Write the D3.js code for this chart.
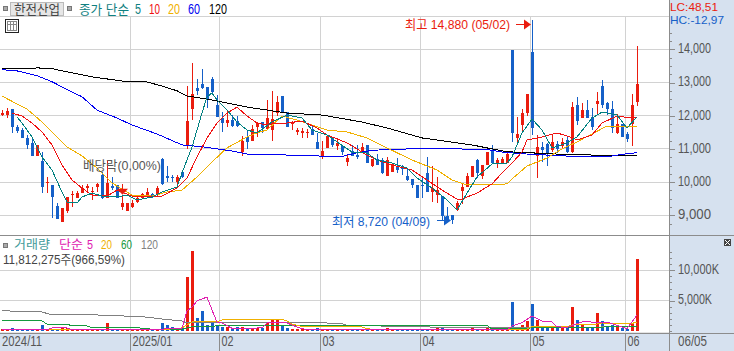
<!DOCTYPE html>
<html lang="en">

<head>
    <meta charset="utf-8">
    <style>
        html, body { margin: 0; padding: 0; background: #fff; overflow: hidden; }
        svg { display: block; }
        .narrow { font-family: "Liberation Sans Narrow", "Liberation Sans", sans-serif; }
        .kr { font-family: "Liberation Sans", "Noto Sans CJK KR", sans-serif; }
    </style>
</head>

<body>

    <script type='text/javascript' src='https://d3js.org/d3.v7.min.js'></script>

    <svg width="734" height="351"></svg>

    <script>
        // daily candles, 128 sessions from 2024/11 to 2025/06
        var opens = [
            12020, 12020, 12200, 11660, 11570, 11330, 11180, 10790, 10640, 9970,
            9910, 9280, 8800, 9130, 9610, 9520, 9670, 9820, 9700, 9850,
            10210, 9520, 9880, 9910, 9250, 9130, 9250, 9400, 9520, 9610,
            9640, 9610, 10700, 10180, 10150, 10000, 10300, 11120, 12200, 12830,
            12950, 12860, 13100, 12320, 11930, 11780, 11870, 11840, 10910, 11360,
            11240, 11660, 11810, 11600, 11570, 12080, 12590, 12110, 11750, 11510,
            11480, 11480, 11600, 11210, 10760, 11030, 11360, 11090, 11090, 10610,
            10940, 10820, 10880, 11120, 10490, 10700, 10670, 10180, 10300, 10460,
            10430, 10180, 10090, 9910, 9910, 10270, 9700, 9610, 9580, 8980,
            9010, 9160, 9730, 9850, 10150, 10670, 10180, 10520, 10970, 10550,
            10580, 10580, 13980, 11330, 11720, 12080, 13920, 10790, 11060, 11150,
            10970, 11150, 11090, 11270, 10910, 12320, 11930, 12170, 11960, 12350,
            12900, 12380, 12200, 11480, 11750, 11450, 11750, 12410
        ];
        var closes = [
            12080, 12140, 11660, 11540, 11330, 11120, 10790, 11120, 9850, 10000,
            9550, 8890, 9220, 9550, 9640, 9670, 9820, 9880, 9730, 9940,
            9520, 9970, 9820, 9520, 9370, 9370, 9370, 9520, 9640, 9700,
            9550, 9820, 9940, 10120, 10120, 10150, 10150, 11840, 12650, 12740,
            12830, 12470, 12710, 11960, 11780, 11870, 11690, 11690, 11240, 11210,
            11600, 11780, 11630, 11930, 11900, 12410, 12110, 11660, 11780, 11570,
            11540, 11510, 11420, 11000, 10940, 11390, 11120, 11180, 10910, 10730,
            10790, 10760, 11060, 10580, 10700, 10520, 10270, 10670, 10550, 10360,
            10400, 10060, 9910, 9520, 9880, 9700, 9820, 9760, 8980, 8860,
            8860, 9370, 9850, 10180, 10490, 10270, 10520, 10910, 10580, 10670,
            10700, 10850, 11480, 11450, 12080, 12650, 11630, 11060, 10970, 10880,
            11210, 10990, 11210, 10910, 12260, 11840, 12170, 11930, 11660, 12440,
            12320, 12200, 11630, 11750, 11360, 11300, 12320, 12950
        ];
        var highs = [
            12170, 12230, 12200, 11720, 11630, 11420, 11300, 11120, 10910, 10150,
            9910, 9370, 9220, 9550, 9730, 9730, 9910, 9940, 9850, 9970,
            10300, 10670, 10150, 9910, 9610, 9370, 9460, 9550, 9670, 9820,
            9670, 9880, 10730, 10490, 10210, 10210, 10330, 12900, 13590, 13100,
            13410, 12860, 13160, 12620, 12110, 12170, 12020, 11990, 11390, 11570,
            11720, 11810, 11810, 12470, 12740, 12590, 12590, 12110, 11840, 11630,
            11630, 11600, 11690, 11480, 11240, 11390, 11360, 11330, 11120, 10820,
            11120, 11120, 11180, 11120, 10700, 10850, 10730, 10760, 10550, 10730,
            10520, 10400, 10090, 9910, 10120, 10760, 10490, 10150, 9580, 9250,
            9010, 9430, 9940, 10280, 10490, 10700, 10520, 10910, 11120, 10730,
            10760, 10910, 13980, 11960, 12200, 12650, 14880, 11420, 11210, 11180,
            11450, 11240, 11330, 11370, 12410, 12560, 12380, 12470, 12230, 12720,
            13080, 12410, 12440, 12050, 11750, 11520, 12660, 14100
        ];
        var lows = [
            11990, 11930, 11480, 11480, 11330, 11000, 10790, 10790, 9670, 9670,
            8920, 8890, 8800, 9070, 9250, 9520, 9670, 9670, 9460, 9700,
            9490, 9520, 9760, 9520, 9160, 9130, 9220, 9370, 9490, 9610,
            9520, 9580, 9910, 10000, 10000, 9910, 10120, 11000, 11870, 12620,
            12800, 12230, 12680, 11960, 11510, 11660, 11660, 11660, 10790, 11000,
            11240, 11360, 11480, 11600, 11240, 11990, 12110, 11660, 11570, 11420,
            11330, 11330, 11420, 11000, 10700, 11030, 11060, 10970, 10820, 10490,
            10790, 10700, 10880, 10580, 10460, 10520, 10240, 10180, 10300, 10270,
            10210, 10030, 9820, 9520, 9520, 9700, 9400, 9370, 8830, 8800,
            8740, 9130, 9340, 9850, 10150, 10130, 10090, 10520, 10580, 10430,
            10580, 10580, 11200, 11210, 11510, 12000, 11420, 10120, 10600, 10490,
            10910, 10880, 11030, 10880, 10880, 11720, 11930, 11930, 11570, 12020,
            12230, 12020, 11480, 11450, 11360, 11220, 11090, 12290
        ];
        // volume in thousands of shares
        var volumes = [
            330, 330, 500, 330, 330, 330, 410, 330, 1070, 410,
            410, 410, 500, 500, 330, 410, 410, 330, 330, 330,
            410, 1240, 410, 410, 330, 170, 330, 330, 330, 330,
            170, 170, 1240, 910, 580, 500, 500, 8910, 13200, 2150,
            3220, 1070, 1570, 830, 660, 580, 410, 580, 580, 500,
            500, 500, 500, 1240, 1980, 1820, 830, 500, 330, 330,
            500, 170, 170, 500, 250, 170, 170, 170, 170, 170,
            170, 170, 170, 170, 170, 170, 170, 500, 170, 170,
            170, 170, 170, 170, 170, 170, 170, 500, 500, 250,
            170, 250, 250, 330, 500, 250, 250, 500, 250, 170,
            170, 250, 4700, 330, 990, 1570, 4370, 1730, 580, 500,
            500, 500, 500, 500, 3880, 1820, 1070, 500, 580, 2890,
            1650, 660, 910, 740, 500, 330, 1150, 11812
        ];

        // moving averages at the session indexes in *Days
        var ma5Days = [3, 4, 6, 8, 10, 12, 13, 15, 16, 18, 20, 23, 25, 27, 30, 32, 35, 36, 38, 40, 41, 42, 43, 45, 47, 49, 51, 54, 57, 60, 62, 65, 67, 70, 73, 75, 78, 81, 83, 86, 89, 91, 93, 95, 98, 101, 102, 104, 106, 108, 110, 113, 115, 118, 120, 123, 125, 127];
        var ma5 = [11960, 11780, 11360, 10755, 10365, 9700, 9400, 9370, 9550, 9670, 9580, 9550, 9610, 9460, 9550, 9700, 9850, 10275, 11055, 12080, 12565, 12685, 12475, 12170, 11810, 11570, 11480, 11810, 12020, 11930, 11570, 11420, 11210, 10905, 10875, 10665, 10575, 10425, 10125, 9820, 9460, 9160, 9670, 10155, 10545, 10575, 10755, 11480, 11900, 11570, 11030, 11180, 11360, 11930, 12110, 12020, 11630, 11960];
        var ma10Days = [2, 4, 6, 8, 10, 12, 14, 16, 18, 21, 23, 26, 28, 32, 35, 37, 39, 41, 43, 45, 47, 49, 51, 53, 55, 57, 60, 63, 65, 69, 73, 75, 78, 82, 85, 88, 91, 92, 95, 98, 100, 102, 104, 105, 108, 111, 113, 115, 118, 120, 123, 126, 127];
        var ma10 = [12080, 11990, 11780, 11510, 11120, 10515, 10065, 9820, 9610, 9580, 9760, 9580, 9580, 9580, 9820, 10125, 10755, 11330, 11780, 12080, 12260, 11990, 11780, 11720, 11780, 11780, 11840, 11630, 11420, 11180, 10815, 10665, 10515, 10365, 10065, 9760, 9490, 9490, 9670, 9945, 10275, 10575, 10905, 11270, 11360, 11480, 11390, 11270, 11420, 11780, 11990, 11930, 11960];
        var ma20Days = [0, 5, 8, 11, 13, 16, 19, 22, 26, 30, 33, 36, 39, 42, 45, 49, 51, 53, 56, 59, 62, 65, 69, 73, 77, 82, 87, 90, 93, 97, 101, 102, 105, 109, 112, 115, 118, 121, 124, 127];
        var ma20 = [12590, 12200, 11810, 11360, 11060, 10790, 10425, 9975, 9610, 9580, 9700, 9760, 10155, 10605, 11030, 11360, 11480, 11570, 11990, 11870, 11720, 11570, 11510, 11330, 11030, 10665, 10365, 10065, 9915, 9915, 9945, 10095, 10485, 10725, 11000, 11210, 11450, 11690, 11660, 11690];
        var ma60Days = [0, 3, 7, 10, 12, 16, 19, 23, 26, 31, 36, 40, 46, 49, 57, 68, 69, 72, 75, 85, 97, 100, 105, 113, 122, 124, 127];
        var ma60 = [13385, 13350, 13205, 13025, 12865, 12570, 12170, 11930, 11720, 11450, 11120, 11065, 10937, 10845, 10815, 10765, 10815, 10915, 10965, 11020, 10980, 10905, 10845, 10785, 10785, 10835, 10885];
        var ma120Days = [0, 6, 7, 10, 12, 18, 24, 29, 32, 35, 37, 41, 45, 49, 57, 64, 72, 77, 84, 94, 97, 101, 106, 110, 118, 127];
        var ma120 = [13410, 13410, 13440, 13420, 13350, 13170, 13045, 13015, 12895, 12750, 12595, 12500, 12380, 12260, 12080, 12020, 11810, 11630, 11330, 11120, 11030, 10915, 10880, 10850, 10815, 10815];

        var volMa5Days = [0, 9, 10, 13, 14, 32, 33, 36, 37, 38, 39, 41, 42, 43, 44, 46, 52, 53, 57, 59, 61, 101, 102, 104, 106, 108, 110, 111, 113, 116, 121, 123, 125, 127];
        var volMa5 = [170, 170, 500, 500, 250, 250, 450, 450, 3300, 3960, 4950, 5600, 3470, 1440, 1320, 450, 500, 1320, 1320, 660, 170, 170, 830, 1350, 2475, 1650, 1500, 700, 600, 1500, 1450, 950, 400, 2640];
        var volMa20Days = [0, 27, 30, 32, 36, 38, 40, 43, 44, 53, 56, 57, 58, 60, 72, 73, 75, 103, 105, 106, 113, 114, 118, 120, 126, 127];
        var volMa20 = [280, 280, 220, 220, 500, 1490, 1490, 1500, 1820, 1930, 1930, 1650, 1150, 750, 660, 380, 210, 210, 330, 710, 710, 990, 990, 1320, 1240, 1490];
        var volMa60Days = [0, 8, 9, 13, 14, 17, 18, 27, 30, 36, 38, 42, 43, 97, 98, 105, 106, 120, 121, 127];
        var volMa60 = [1650, 1650, 1150, 1150, 830, 830, 540, 540, 300, 300, 710, 710, 900, 900, 330, 330, 600, 600, 760, 760];
        var volMa120Days = [0, 3, 8, 10, 19, 28, 32, 36, 37, 43, 65, 66, 68, 69, 75, 76, 98, 127];
        var volMa120 = [3460, 3140, 3140, 2640, 2640, 2360, 1980, 1650, 1320, 1320, 1320, 1200, 1200, 940, 940, 780, 500, 710];

        // axis
        var priceTicks = [9000, 10000, 11000, 12000, 13000, 14000];
        var priceMinorTicks = [8750, 9250, 9500, 9750, 10250, 10500, 10750, 11250, 11500, 11750, 12250, 12500, 12750, 13250, 13500, 13750, 14250, 14500];
        var volTicks = [5000, 10000];
        var volMinorTicks = [0, 1000, 2000, 3000, 4000, 6000, 7000, 8000, 9000, 11000, 12000, 13000];
        var monthDays = [26, 44, 64, 84, 106, 125];
        var monthLabels = ["2025/01", "02", "03", "04", "05", "06"];

        var svg = d3.select("svg");
        var red = "#ea1c0e", blue = "#1560c8";
        var gridColor = "#d2d2d2", axisColor = "#8c8c8c", textColor = "#555";
        var axisX = 669;

        var x = d3.scaleLinear().domain([0, 127]).range([2, 637]);
        var yPrice = d3.scaleLinear().domain([9000, 14000]).range([215.3, 49.3]);
        var yVol = d3.scaleLinear().domain([0, 10000]).range([331, 270.3]);

        function px(v) { return Math.floor(v) + 0.5; }
        function gridX(d) { return px(x(d) - 2); }

        function label(text, tx, ty, color, width, size, cls) {
            return svg.append("text")
                .attr("class", cls || "kr")
                .attr("x", tx).attr("y", ty)
                .attr("font-size", (size || 13) + "px")
                .attr("fill", color)
                .attr("textLength", width)
                .attr("lengthAdjust", "spacingAndGlyphs")
                .text(text);
        }

        // right and bottom panels
        svg.append("rect").attr("x", axisX).attr("y", 0).attr("width", 734 - axisX).attr("height", 351).attr("fill", "#d6e1ef");
        svg.append("rect").attr("x", 0).attr("y", 334).attr("width", 734).attr("height", 17).attr("fill", "#d6e1ef");

        // grid
        var grid = svg.append("g").attr("stroke", gridColor).attr("shape-rendering", "crispEdges");
        grid.append("line").attr("x1", 0).attr("x2", axisX).attr("y1", 16.5).attr("y2", 16.5);
        grid.selectAll(".gp").data(priceTicks).enter().append("line")
            .attr("x1", 0).attr("x2", axisX)
            .attr("y1", function (d) { return px(yPrice(d)); })
            .attr("y2", function (d) { return px(yPrice(d)); });
        grid.selectAll(".gv").data(volTicks).enter().append("line")
            .attr("x1", 0).attr("x2", axisX)
            .attr("y1", function (d) { return px(yVol(d)); })
            .attr("y2", function (d) { return px(yVol(d)); });
        grid.selectAll(".gx").data(monthDays).enter().append("line")
            .attr("x1", gridX).attr("x2", gridX)
            .attr("y1", 16).attr("y2", 334);
        grid.append("line").attr("x1", 0).attr("x2", axisX).attr("y1", 332.5).attr("y2", 332.5).attr("stroke", "#e4e4e4");

        // candles
        var candles = svg.append("g").attr("shape-rendering", "crispEdges");
        function candleColor(i) { return closes[i] >= opens[i] ? red : blue; }
        candles.selectAll(".wick").data(d3.range(opens.length)).enter().append("rect")
            .attr("x", function (i) { return x(i); })
            .attr("y", function (i) { return Math.round(yPrice(highs[i])); })
            .attr("width", 1)
            .attr("height", function (i) { return Math.max(1, Math.round(yPrice(lows[i]) - yPrice(highs[i]))); })
            .attr("fill", candleColor);
        candles.selectAll(".body").data(d3.range(opens.length)).enter().append("rect")
            .attr("x", function (i) { return x(i) - 1; })
            .attr("y", function (i) { return Math.round(yPrice(Math.max(opens[i], closes[i]))); })
            .attr("width", 3)
            .attr("height", function (i) { return Math.max(1, Math.round(Math.abs(yPrice(opens[i]) - yPrice(closes[i])))); })
            .attr("fill", candleColor);

        // volume bars
        svg.append("g").attr("shape-rendering", "crispEdges")
            .selectAll("rect").data(volumes).enter().append("rect")
            .attr("x", function (d, i) { return x(i) - 1; })
            .attr("y", function (d) { return Math.round(yVol(d)); })
            .attr("width", 3)
            .attr("height", function (d) { return Math.max(1, Math.round(yVol(0) - yVol(d))); })
            .attr("fill", function (d, i) { return candleColor(i); });

        // moving average lines
        function drawLine(days, values, scale, color) {
            var line = d3.line()
                .x(function (d) { return x(d[0]); })
                .y(function (d) { return scale(d[1]); });
            svg.append("path")
                .attr("d", line(d3.zip(days, values)))
                .attr("fill", "none")
                .attr("stroke", color)
                .attr("stroke-width", 1)
                .attr("shape-rendering", "crispEdges");
        }
        drawLine(ma120Days, ma120, yPrice, "#000");
        drawLine(ma60Days, ma60, yPrice, "#0000f0");
        drawLine(ma20Days, ma20, yPrice, "#f0b000");
        drawLine(ma10Days, ma10, yPrice, "#f01010");
        drawLine(ma5Days, ma5, yPrice, "#008080");

        drawLine(volMa120Days, volMa120, yVol, "#808080");
        drawLine(volMa60Days, volMa60, yVol, "#149a3c");
        drawLine(volMa20Days, volMa20, yVol, "#f0b000");
        drawLine(volMa5Days, volMa5, yVol, "#e020b0");

        // axis lines and panel separators
        var frame = svg.append("g").attr("stroke", axisColor).attr("shape-rendering", "crispEdges");
        frame.append("line").attr("x1", axisX + 0.5).attr("x2", axisX + 0.5).attr("y1", 0).attr("y2", 351);
        frame.append("line").attr("x1", 0).attr("x2", 734).attr("y1", 235.5).attr("y2", 235.5);
        frame.append("line").attr("x1", 0).attr("x2", 734).attr("y1", 333.5).attr("y2", 333.5);
        frame.selectAll(".mx").data(monthDays).enter().append("line")
            .attr("x1", gridX).attr("x2", gridX)
            .attr("y1", 334).attr("y2", 351);

        // right axes
        function rightAxis(scale, ticks, format, size) {
            var g = svg.append("g")
                .attr("transform", "translate(" + axisX + ",0)")
                .call(d3.axisRight(scale).tickValues(ticks).tickFormat(format).tickSize(size).tickPadding(3));
            g.select(".domain").remove();
            g.selectAll("line").attr("stroke", axisColor).attr("shape-rendering", "crispEdges");
            return g;
        }
        rightAxis(yPrice, priceMinorTicks, function () { return ""; }, 3);
        rightAxis(yVol, volMinorTicks, function () { return ""; }, 3);
        rightAxis(yPrice, priceTicks, d3.format(","), 6)
            .selectAll("text").attr("class", "narrow").attr("font-size", "15px").attr("fill", textColor)
            .attr("y", -1.5).attr("textLength", 33).attr("lengthAdjust", "spacingAndGlyphs");
        rightAxis(yVol, volTicks, function (d) { return d3.format(",")(d) + "K"; }, 6)
            .selectAll("text").attr("class", "narrow").attr("font-size", "15px").attr("fill", textColor)
            .attr("y", -1.5).attr("textLength", function (d) { return d >= 10000 ? 41 : 34; }).attr("lengthAdjust", "spacingAndGlyphs");

        // month labels
        svg.append("g").selectAll("text").data(monthDays).enter().append("text")
            .attr("class", "narrow")
            .attr("x", function (d) { return gridX(d) + 2; })
            .attr("y", 346)
            .attr("font-size", "15px")
            .attr("fill", textColor)
            .attr("textLength", function (d, i) { return monthLabels[i].length > 2 ? 40 : 12; })
            .attr("lengthAdjust", "spacingAndGlyphs")
            .text(function (d, i) { return monthLabels[i]; });
        label("2024/11", 2, 346, textColor, 40, 15, "narrow");
        label("06/05", 678, 346, textColor, 29, 15, "narrow");

        // header
        function square(sx, sy) {
            svg.append("rect").attr("x", sx + 0.5).attr("y", sy + 0.5).attr("width", 4).attr("height", 4)
                .attr("fill", "#aaa").attr("stroke", "#777").attr("shape-rendering", "crispEdges");
        }
        square(3, 6);
        square(67, 6);
        svg.append("rect").attr("x", 10.5).attr("y", 2.5).attr("width", 53).attr("height", 13)
            .attr("fill", "#e6e6e6").attr("stroke", "#bbb").attr("shape-rendering", "crispEdges");
        label("한전산업", 14, 14, "#444", 46);
        label("종가 단순", 79, 14, "#0f8080", 50);
        label("5", 135, 14, "#0f8080", 6, 14, "narrow");
        label("10", 149, 14, "#f01010", 11, 14, "narrow");
        label("20", 168, 14, "#f0b000", 12, 14, "narrow");
        label("60", 188, 14, "#0000f0", 12, 14, "narrow");
        label("120", 209, 14, "#000", 18, 14, "narrow");

        // table icon
        var icon = svg.append("g").attr("shape-rendering", "crispEdges").attr("fill", "none");
        icon.append("rect").attr("x", 5.5).attr("y", 19.5).attr("width", 13).attr("height", 13).attr("stroke", "#222");
        icon.append("rect").attr("x", 7.5).attr("y", 21.5).attr("width", 9).attr("height", 9).attr("stroke", "#888");
        icon.append("line").attr("x1", 10.5).attr("x2", 10.5).attr("y1", 21).attr("y2", 31).attr("stroke", "#888");
        icon.append("line").attr("x1", 13.5).attr("x2", 13.5).attr("y1", 21).attr("y2", 31).attr("stroke", "#888");
        icon.append("line").attr("x1", 7).attr("x2", 17).attr("y1", 24.5).attr("y2", 24.5).attr("stroke", "#888");

        // top right values
        label("LC:48,51", 670, 10.5, red, 48, 11.5, "narrow");
        label("HC:-12,97", 670, 23.5, blue, 54, 11.5, "narrow");

        // annotations
        function arrow(x1, x2, ay, color) {
            svg.append("line").attr("x1", x1).attr("x2", x2 - 6).attr("y1", ay).attr("y2", ay)
                .attr("stroke", color).attr("shape-rendering", "crispEdges");
            svg.append("path")
                .attr("d", d3.line()([[x2 - 7, ay - 5], [x2, ay], [x2 - 7, ay + 5]]))
                .attr("fill", color);
        }
        label("최고 14,880 (05/02)", 405, 29, red, 105);
        arrow(516, x(106) - 1, px(yPrice(14880)) + 4, red);
        label("최저 8,720 (04/09)", 332, 226, blue, 98);
        arrow(437, x(90) - 1, px(yPrice(8740)) - 3, blue);

        label("배당락(0,00%)", 83, 170, textColor, 78);
        svg.append("line").attr("x1", x(24) + 0.5).attr("x2", x(24) + 0.5)
            .attr("y1", yPrice(9950)).attr("y2", yPrice(9800))
            .attr("stroke", red).attr("shape-rendering", "crispEdges");
        svg.append("path")
            .attr("d", d3.line()([[x(24) - 5, yPrice(9800)], [x(24) + 6, yPrice(9800)], [x(24) + 0.5, yPrice(9620)]]))
            .attr("fill", red);

        // volume panel header
        square(3, 243);
        label("거래량", 14, 248.5, "#3f9a9a", 36, 12);
        label("단순", 59, 248.5, "#e020b0", 24, 12);
        label("5", 87, 248.5, "#e020b0", 6, 12.5, "narrow");
        label("20", 101, 248.5, "#f0b000", 11, 12.5, "narrow");
        label("60", 121, 248.5, "#149a3c", 11, 12.5, "narrow");
        label("120", 141, 248.5, "#808080", 17, 12.5, "narrow");
        label("11,812,275주(966,59%)", 3, 264, "#444", 122, 13);

        // little maximize button
        svg.append("rect").attr("x", 724).attr("y", 239).attr("width", 7).attr("height", 7).attr("fill", "#444");
        svg.append("path").attr("d", "M725,240L730,245M730,240L725,245").attr("stroke", "#fff").attr("stroke-width", 1);
    </script>
</body>
</html>
